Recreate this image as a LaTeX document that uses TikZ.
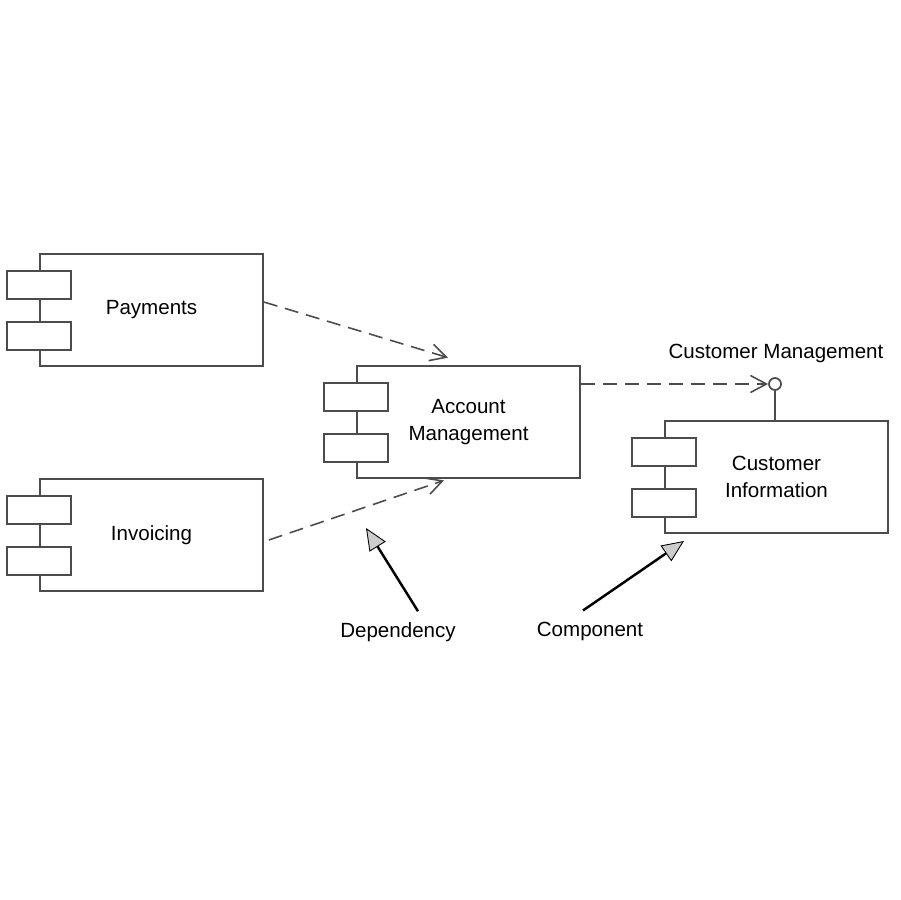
\documentclass[tikz,border=0pt]{standalone}
\usepackage{fontspec}
\setmainfont{Liberation Sans}
\usetikzlibrary{arrows.meta}
\definecolor{linegray}{rgb}{0.3,0.3,0.3}
\definecolor{headgray}{rgb}{0.8,0.8,0.8}
\tikzset{
  component/.style={draw=linegray, line width=1pt, minimum width=4.46cm,
    minimum height=2.24cm, align=center, font=\fontsize{11.7}{15.3}\selectfont},
  tab/.style={draw=linegray, line width=1pt, fill=white, minimum width=1.28cm,
    minimum height=0.56cm, inner sep=0pt},
  depends/.style={draw=linegray, line width=0.9pt, dash pattern=on 8pt off 4.5pt,
    -{Straight Barb[length=3.2mm,width=3.4mm]}},
  pointer/.style={line width=1.4pt,
    -{Triangle[length=4.4mm,width=3.8mm,fill=headgray,line width=0.5pt]}},
  label/.style={font=\fontsize{11.7}{14}\selectfont}
}

\begin{document}
\begin{tikzpicture}[x=0.02cm,y=-0.02cm]
      \useasboundingbox (0,0) rectangle (900,900);
      \node[component] (pay) at (151.5,310) {Payments};
      \node[component] (inv) at (151.5,535) {Invoicing};
      \node[component] (acc) at (468.5,422) {Account\\Management};
      \node[component] (cust) at (776.5,477) {Customer\\Information};
      \foreach \n in {pay,inv,acc,cust} {
        \node[tab] (\n-a) at ([yshift=0.5cm]\n.west) {};
        \node[tab] (\n-b) at ([yshift=-0.52cm]\n.west) {};
      }
      % provided interface
      \node[draw=linegray, circle, minimum size=0.24cm, inner sep=0pt, line width=1pt] (lolli) at (775,384) {};
      \draw[linegray, line width=1pt] (lolli.south) -- (lolli.south |- cust.north);
      \node[label] (cm) at (776,353) {Customer Management};
      \draw[depends] ([yshift=0.16cm]pay.east) -- ([xshift=-0.41cm,yshift=0.15cm]acc.north);
      \draw[depends] ([xshift=0.1cm,yshift=-0.1cm]inv.east) -- ([xshift=-0.49cm,yshift=-0.03cm]acc.south);
      \draw[depends] (acc.east |- lolli.west) -- (lolli.west);
      % callouts
      \node[label] (dep) at (398,632) {Dependency};
      \node[label] (comp) at (590,631) {Component};
      \coordinate (deptip) at (366,528);
      \coordinate (comptip) at (684,541);
      \draw[pointer] ([xshift=0.4cm,yshift=0.1cm]dep.north) -- (deptip);
      \draw[pointer] ([xshift=-0.14cm,yshift=0.1cm]comp.north) -- (comptip);
    \end{tikzpicture}
\end{document}
